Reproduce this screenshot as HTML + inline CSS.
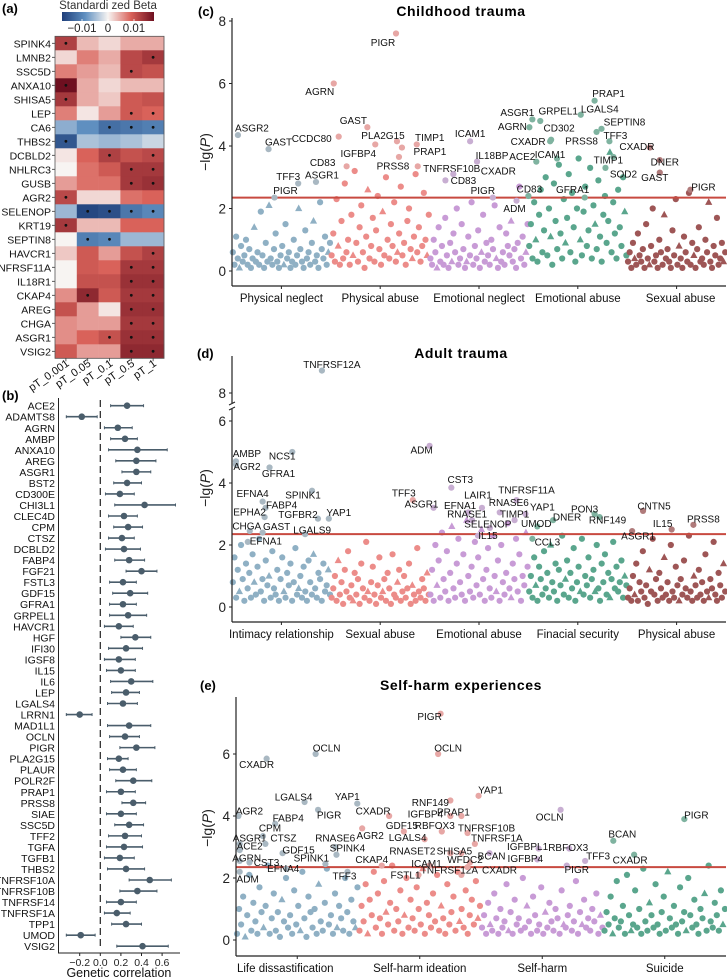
<!DOCTYPE html>
<html><head><meta charset="utf-8">
<style>
html,body{margin:0;padding:0;background:#fff;}
svg{display:block;font-family:"Liberation Sans",Arial,sans-serif;}
</style></head>
<body>
<svg id="fig" width="727" height="978" viewBox="0 0 727 978" xmlns="http://www.w3.org/2000/svg">
<defs>
<linearGradient id="cbar" x1="0" x2="1" y1="0" y2="0">
<stop offset="0" stop-color="#1f3f7a"/><stop offset="0.25" stop-color="#5f8fc0"/><stop offset="0.5" stop-color="#f7f4f2"/><stop offset="0.75" stop-color="#d9625a"/><stop offset="1" stop-color="#6e1020"/>
</linearGradient>
</defs>
<g id="panelA"></g>
<g id="panelB"></g>
<g id="panelC"></g>
<g id="panelD"></g>
<g id="panelE"></g>
</svg>
<script>
const NS="http://www.w3.org/2000/svg";
function mk(parent,tag,attrs,text){const e=document.createElementNS(NS,tag);for(const k in attrs)e.setAttribute(k,attrs[k]);if(text!==undefined)e.textContent=text;parent.appendChild(e);return e;}

/* ---------- Panel A: heatmap ---------- */
const hmGenes=["SPINK4","LMNB2","SSC5D","ANXA10","SHISA5","LEP","CA6","THBS2","DCBLD2","NHLRC3","GUSB","AGR2","SELENOP","KRT19","SEPTIN8","HAVCR1","TNFRSF11A","IL18R1","CKAP4","AREG","CHGA","ASGR1","VSIG2"];
const hmCols=["pT_0.001","pT_0.05","pT_0.1","pT_0.5","pT_1"];
const hmVals=[
[0.7,0.2,0.1,0.25,0.25],[0.1,0.4,0.25,0.65,0.75],[0.4,0.3,0.2,0.65,0.6],[1.0,0.25,0.1,0.2,0.2],
[0.75,0.25,0.15,0.55,0.6],[0.4,0.05,0.3,0.55,0.5],[-0.35,-0.5,-0.7,-0.65,-0.6],[-0.85,-0.25,-0.3,-0.25,-0.15],
[0.05,0.5,0.7,0.6,0.65],[0.0,0.45,0.55,0.75,0.75],[0.3,0.45,0.45,0.75,0.8],[0.65,0.1,0.1,0.45,0.5],
[-0.3,-0.95,-0.9,-0.65,-0.55],[0.75,0.2,0.2,0.5,0.5],[0.0,-0.6,-0.55,-0.3,-0.3],[0.15,0.55,0.3,0.6,0.7],
[0.0,0.55,0.5,0.75,0.75],[0.0,0.6,0.6,0.8,0.8],[0.35,0.85,0.55,0.75,0.75],[0.6,0.3,0.05,0.8,0.8],
[0.35,0.3,0.3,0.75,0.75],[0.35,0.5,0.6,0.8,0.8],[0.55,0.3,0.3,0.85,0.85]];
const hmSig=[
[1,0,0,0,0],[0,0,0,0,1],[0,0,0,1,0],[1,0,0,0,0],[1,0,0,0,0],[0,0,0,1,1],[0,0,1,1,1],[1,0,0,0,0],
[0,0,1,0,1],[0,0,0,1,1],[0,0,0,1,1],[1,0,0,0,0],[0,1,1,1,1],[1,0,0,0,0],[0,1,1,0,0],[0,0,0,0,1],
[0,0,0,1,1],[0,0,0,1,1],[0,1,0,1,1],[0,0,0,1,1],[0,0,0,1,1],[0,0,1,1,1],[0,0,0,1,1]];
const cbTicks=[-0.01,0,0.01];
const cbTickLabels=["\u22120.01","0","0.01"];
const cbMax=0.0177;

function lerp(a,b,t){return a+(b-a)*t;}
function mixC(c1,c2,t){return "rgb("+[0,1,2].map(i=>Math.round(lerp(c1[i],c2[i],t))).join(",")+")";}
function hmColor(v){
  const stops=[[-1,[31,63,122]],[-0.5,[95,143,192]],[0,[247,244,242]],[0.5,[217,98,90]],[1,[110,16,32]]];
  v=Math.max(-1,Math.min(1,v));
  for(let i=0;i<stops.length-1;i++){if(v<=stops[i+1][0]){const t=(v-stops[i][0])/(stops[i+1][0]-stops[i][0]);return mixC(stops[i][1],stops[i+1][1],t);}}
  return "rgb(110,16,32)";
}
(function(){
  const g=document.getElementById("panelA");
  const x0=55,x1=164,y0=36.3,rowH=14.0;
  const cw=(x1-x0)/hmCols.length;
  const pl=mk(g,"text",{x:2,y:13,"font-size":13,"font-weight":"bold"},"(a)");
  
  
  const ct=mk(g,"text",{x:108,y:9,"font-size":11.5,"text-anchor":"middle",fill:"#333"},"Standardi zed Beta");
  
  
  const cb=mk(g,"rect",{x:62,y:12,width:92,height:9,fill:"url(#cbar)"});
  
  
  cbTicks.forEach((t,i)=>{const x=108+t/cbMax*46;
    mk(g,"line",{x1:x,x2:x,y1:19,y2:21,stroke:"#fff","stroke-width":0.8});
    const tl=mk(g,"text",{x:x,y:32,"font-size":11.5,"text-anchor":"middle",fill:"#222"},cbTickLabels[i]);
    
    });
  hmGenes.forEach((gn,r)=>{
    const y=y0+r*rowH;
    hmVals[r].forEach((v,c)=>{
      const rc=mk(g,"rect",{x:x0+c*cw,y:y,width:cw+0.3,height:rowH+0.3,fill:hmColor(v)});
      
      
      if(hmSig[r][c]){const d=mk(g,"circle",{cx:x0+c*cw+cw/2,cy:y+rowH/2,r:1.4,fill:"#111"});
        
        }
    });
    const lb=mk(g,"text",{x:51,y:y+rowH/2+4,"font-size":10.5,"text-anchor":"end",fill:"#111"},gn);
    
    
    mk(g,"line",{x1:52,x2:55,y1:y+rowH/2,y2:y+rowH/2,stroke:"#333","stroke-width":0.8});
  });
  mk(g,"rect",{x:x0,y:y0,width:x1-x0,height:rowH*hmGenes.length,fill:"none",stroke:"#555","stroke-width":0.8});
  hmCols.forEach((c,i)=>{const x=x0+i*cw+cw/2;
    mk(g,"line",{x1:x,x2:x,y1:y0+rowH*hmGenes.length,y2:y0+rowH*hmGenes.length+3,stroke:"#333","stroke-width":0.8});
    const t=mk(g,"text",{x:x+4,y:365,"font-size":11,"text-anchor":"end",fill:"#111",transform:"rotate(-35 "+(x+4)+" 365)"},c);
    
    });
})();

/* ---------- Panel B: forest plot ---------- */
const fpGenes=["ACE2","ADAMTS8","AGRN","AMBP","ANXA10","AREG","ASGR1","BST2","CD300E","CHI3L1","CLEC4D","CPM","CTSZ","DCBLD2","FABP4","FGF21","FSTL3","GDF15","GFRA1","GRPEL1","HAVCR1","HGF","IFI30","IGSF8","IL15","IL6","LEP","LGALS4","LRRN1","MAD1L1","OCLN","PIGR","PLA2G15","PLAUR","POLR2F","PRAP1","PRSS8","SIAE","SSC5D","TFF2","TGFA","TGFB1","THBS2","TNFRSF10A","TNFRSF10B","TNFRSF14","TNFRSF1A","TPP1","UMOD","VSIG2"];
const fpEst=[0.26,-0.18,0.17,0.24,0.36,0.35,0.35,0.26,0.19,0.43,0.23,0.27,0.21,0.23,0.28,0.40,0.22,0.29,0.22,0.27,0.18,0.34,0.25,0.18,0.20,0.30,0.25,0.22,-0.20,0.28,0.24,0.35,0.18,0.22,0.32,0.20,0.32,0.20,0.28,0.24,0.23,0.19,0.25,0.48,0.36,0.20,0.16,0.25,-0.19,0.41];
const fpLo=[0.10,-0.33,0.04,0.10,0.08,0.15,0.21,0.13,0.05,0.14,0.08,0.13,0.08,0.05,0.14,0.25,0.09,0.12,0.09,0.09,0.04,0.20,0.08,0.04,0.06,0.10,0.11,0.07,-0.33,0.07,0.09,0.19,0.07,0.09,0.15,0.06,0.21,0.06,0.14,0.08,0.06,0.04,0.07,0.28,0.19,0.06,0.04,0.11,-0.33,0.16];
const fpHi=[0.42,-0.03,0.31,0.36,0.65,0.54,0.49,0.40,0.33,0.73,0.36,0.41,0.33,0.39,0.43,0.55,0.35,0.46,0.35,0.45,0.32,0.49,0.41,0.34,0.34,0.51,0.38,0.36,-0.08,0.49,0.38,0.53,0.27,0.35,0.50,0.34,0.44,0.35,0.42,0.40,0.41,0.33,0.43,0.69,0.55,0.35,0.29,0.40,-0.05,0.66];
const fpTicks=[-0.2,0.0,0.2,0.4,0.6];
const fpTickLabels=["\u22120.2","0.0","0.2","0.4","0.6"];
(function(){
  const g=document.getElementById("panelB");
  const xs=v=>100.3+v*103;
  const ys=i=>405.7+i*11.03;
  const pl=mk(g,"text",{x:2,y:400,"font-size":13,"font-weight":"bold"},"(b)");
  
  
  mk(g,"line",{x1:58.5,x2:58.5,y1:398,y2:953,stroke:"#222","stroke-width":1});
  mk(g,"line",{x1:58,x2:180,y1:953,y2:953,stroke:"#222","stroke-width":1});
  const zl=mk(g,"line",{x1:xs(0),x2:xs(0),y1:400,y2:950,stroke:"#222","stroke-width":1.2,"stroke-dasharray":"7,4"});
  
  
  fpTicks.forEach((t,i)=>{const x=xs(t);
    mk(g,"line",{x1:x,x2:x,y1:953,y2:956,stroke:"#222"});
    const tl=mk(g,"text",{x:x,y:966,"font-size":10.5,"text-anchor":"middle",fill:"#222"},fpTickLabels[i]);
    
    });
  const xt=mk(g,"text",{x:xs(0.2)-2,y:977,"font-size":12.5,"text-anchor":"middle",fill:"#111"},"Genetic correlation");
  
  
  fpGenes.forEach((gn,i)=>{const y=ys(i);
    const lb=mk(g,"text",{x:55,y:y+4,"font-size":10.5,"text-anchor":"end",fill:"#111"},gn);
    
    
    const ci=mk(g,"line",{x1:xs(fpLo[i]),x2:xs(fpHi[i]),y1:y,y2:y,stroke:"#4a5d6b","stroke-width":1.6});
    
    
    mk(g,"line",{x1:xs(fpLo[i]),x2:xs(fpLo[i]),y1:y-1.5,y2:y+1.5,stroke:"#4a5d6b","stroke-width":1});
    mk(g,"line",{x1:xs(fpHi[i]),x2:xs(fpHi[i]),y1:y-1.5,y2:y+1.5,stroke:"#4a5d6b","stroke-width":1});
    const pt=mk(g,"circle",{cx:xs(fpEst[i]),cy:y,r:3.3,fill:"#4a5d6b"});
    
    
  });
})();

/* ---------- Manhattan data ---------- */
const cCats=["Physical neglect","Physical abuse","Emotional neglect","Emotional abuse","Sexual abuse"];
const cG0=[0.6,0.2,1.1,0.4,0.1,0.8,0.3,0.5,1.0,0.2,0.7,0.1,0.4,1.4,0.3,0.6,0.2,1.9,0.5,0.1,0.9,0.3,2.1,0.4,0.2,0.7,1.2,0.3,0.1,0.5,0.8,0.2,1.5,0.4,0.6,0.1,0.3,1.0,0.2,0.5,2.0,0.7,0.3,0.1,1.3,0.4,0.6,0.2,0.9,1.6,0.3,0.5,0.1,2.2,0.7,0.4,1.1,0.2,0.6,0.9];
const cG1=[0.5,1.2,0.3,2.3,0.8,0.2,1.6,0.4,2.8,0.6,1.0,0.2,1.8,0.5,3.2,0.9,0.3,1.4,2.1,0.6,0.1,1.1,2.6,0.4,0.8,1.7,0.3,1.3,2.4,0.7,0.2,1.9,0.5,3.0,1.0,0.4,1.5,0.8,2.2,0.3,0.6,1.2,2.7,0.5,0.9,0.2,1.6,2.0,0.7,0.4,1.1,3.1,0.6,1.4,0.3,0.8,2.5,1.0,0.5,1.8];
const cG2=[0.4,0.2,1.0,0.6,0.1,1.4,0.3,0.8,0.2,1.7,0.5,0.1,0.9,0.3,1.2,0.6,2.0,0.2,0.4,1.5,0.7,0.1,0.3,1.1,0.5,2.2,0.2,0.8,0.4,1.3,0.1,0.6,1.8,0.3,0.9,0.5,0.2,1.0,0.7,2.1,0.4,0.1,1.4,0.3,0.6,0.2,1.2,0.8,0.5,1.6,0.3,0.7,0.1,0.9,2.7,0.4,1.1,0.2,0.6,1.5];
const cG3=[0.8,1.5,0.4,2.2,1.0,0.3,1.8,2.6,0.6,1.3,3.0,0.5,2.0,1.1,0.2,2.8,1.6,0.7,3.4,1.2,0.4,2.3,0.9,1.7,3.1,0.6,2.5,1.4,0.3,2.0,3.6,1.0,0.5,1.9,2.7,0.8,1.3,3.3,0.4,2.1,1.5,0.7,2.9,1.1,0.3,1.8,2.4,0.9,1.6,3.8,0.6,2.2,1.2,0.4,2.6,1.4,0.8,3.0,1.9,0.5];
const cG4=[0.3,0.6,0.1,0.9,0.4,0.2,1.2,0.5,0.3,0.7,0.1,1.5,0.4,0.2,0.8,2.0,0.3,0.5,0.1,1.0,0.6,0.2,1.8,0.4,0.7,0.3,0.1,1.3,0.5,2.3,0.2,0.8,0.4,0.1,1.1,0.6,0.3,2.5,0.2,0.9,0.5,0.1,0.7,1.4,0.3,0.4,0.2,1.0,0.6,2.2,0.3,0.1,0.8,0.5,1.7,0.2,0.4,0.9,0.3,0.6];
const cLabels=[["ASGR2",0.06,4.35],["GAST",0.37,3.9],["PIGR",0.43,2.35],["TFF3",0.67,2.8],["ASGR1",0.85,2.85],["CCDC80",1.08,4.3],["AGRN",1.03,6.0],["CD83",1.16,3.35],["GAST",1.37,4.6],["IGFBP4",1.45,4.05],["PIGR",1.66,7.6],["PLA2G15",1.67,4.15],["PRAP1",1.72,3.95],["PRSS8",1.69,3.65],["TIMP1",1.87,4.05],["TNFRSF10B",1.88,3.35],["ICAM1",2.41,4.15],["IL18BP",2.48,3.5],["CXADR",2.24,3.1],["CD83",2.16,2.9],["PIGR",2.64,2.35],["ADM",2.88,2.25],["ASGR1",3.04,4.85],["AGRN",3.01,4.6],["GRPEL1",3.12,4.8],["CD302",3.23,4.2],["CXADR",3.22,4.15],["LGALS4",3.53,5.0],["PRAP1",3.67,5.45],["SEPTIN8",3.74,4.55],["PRSS8",3.69,4.45],["TFF3",3.82,4.15],["TIMP1",3.86,3.65],["SOD2",3.78,3.3],["ACE2",3.08,3.5],["ICAM1",3.29,3.6],["CD83",3.0,2.4],["GFRA1",3.57,2.35],["CXADR",4.23,3.95],["DNER",4.33,3.55],["GAST",4.33,3.15],["PIGR",4.64,2.6]];
const cLabelOffsets=[[14,-7],[10,-7],[11,-7],[-10,-7],[6,-7],[-27,2],[-14,8],[-24,-4],[-14,-7],[-17,9],[-13,9],[-14,-6],[28,4],[-6,9],[13,-7],[34,2],[0,-8],[15,-6],[45,-3],[18,0],[-10,-7],[-2,8],[-15,-7],[-17,-1],[18,-10],[8,-12],[-22,0],[19,-6],[14,-7],[23,-7],[-15,9],[6,-6],[-5,3],[18,6],[-14,-5],[-7,-4],[1,-7],[-12,-8],[-13,-1],[5,2],[-5,5],[13,-3]];
const cTicks=[0,2,4,6,8];

const dCats=["Intimacy relationship","Sexual abuse","Emotional abuse","Finacial security","Physical abuse"];
const dG0=[0.8,1.6,0.3,1.2,0.5,2.0,0.9,0.2,1.4,0.6,1.1,0.3,1.7,0.8,0.4,1.3,2.2,0.5,0.9,0.2,1.5,0.7,1.0,0.3,1.8,0.6,0.4,1.2,0.2,0.9,1.6,0.5,0.3,1.1,0.7,1.4,0.2,0.8,1.9,0.4,0.6,1.0,0.3,1.3,0.5,0.2,1.5,0.8,0.4,1.7,0.6,0.3,1.1,0.9,0.2,1.4,0.5,0.7,1.2,0.4];
const dG1=[0.3,0.6,1.0,0.2,1.5,0.4,0.8,0.1,1.2,0.5,1.8,0.3,0.7,0.2,1.1,0.4,0.9,0.1,1.4,0.6,0.3,2.1,0.5,0.2,0.8,1.3,0.4,0.1,0.7,1.6,0.3,0.5,0.9,0.2,1.1,0.6,0.1,1.7,0.4,0.3,0.8,1.2,0.2,0.5,1.0,0.3,0.6,1.4,0.1,0.7,0.4,0.2,1.9,0.5,0.3,0.9,0.6,0.2,1.1,0.4];
const dG2=[0.4,1.2,0.2,2.0,0.7,1.5,0.3,2.4,0.9,0.5,1.8,0.2,1.1,2.6,0.6,0.3,1.4,2.2,0.8,0.4,1.7,0.2,2.8,1.0,0.5,1.3,0.3,2.1,0.7,1.6,0.4,2.5,0.9,0.2,1.2,1.9,0.6,0.3,2.3,1.0,0.5,1.5,0.2,2.0,0.8,0.4,1.1,2.7,0.6,0.3,1.4,0.9,2.2,0.5,1.7,0.2,1.0,0.7,2.4,1.3];
const dG3=[0.5,1.0,0.3,1.6,0.7,0.2,1.3,0.9,0.4,1.8,0.6,1.1,0.3,2.0,0.8,0.5,1.4,0.2,1.2,0.7,2.3,0.4,0.9,1.5,0.3,1.1,0.6,1.9,0.2,0.8,1.3,0.5,2.2,0.4,1.0,0.7,1.6,0.3,0.9,1.2,0.5,2.0,0.6,0.2,1.4,0.8,1.7,0.4,1.1,0.3,0.9,2.1,0.6,1.3,0.5,0.8,1.5,0.3,1.0,0.7];
const dG4=[0.3,0.6,0.2,1.0,0.4,1.4,0.2,0.8,0.5,1.8,0.3,0.7,0.1,1.2,0.5,2.2,0.4,0.9,0.2,1.1,0.6,0.3,1.6,0.4,0.8,0.2,2.0,0.5,0.3,1.3,0.7,0.2,0.9,0.4,1.5,0.6,0.3,2.3,0.5,0.2,1.0,0.7,0.3,1.2,0.4,0.8,0.2,1.7,0.5,0.3,0.9,0.6,2.1,0.4,0.2,1.1,0.7,0.3,1.4,0.5];
const dLabels=[["TNFRSF12A",0.91,9.6],["AMBP",0.04,4.7],["AGR2",0.04,4.6],["NCS1",0.61,5.0],["GFRA1",0.38,4.5],["EFNA4",0.31,3.4],["FABP4",0.34,3.2],["SPINK1",0.81,3.75],["EPHA2",0.33,2.9],["TGFBR2",0.87,2.85],["YAP1",0.98,2.85],["CHGA",0.18,2.45],["GAST",0.31,2.4],["LGALS9",0.74,2.35],["EFNA1",0.16,2.1],["TFF3",1.83,3.45],["ASGR1",2.04,3.2],["ADM",2.0,5.2],["CST3",2.22,3.85],["LAIR1",2.53,3.2],["EFNA1",2.39,3.05],["TNFRSF11A",2.88,3.45],["RNASE6",2.71,3.05],["YAP1",2.97,3.0],["TIMP1",2.86,2.8],["RNASE1",2.43,2.8],["SELENOP",2.61,2.55],["IL15",2.49,2.3],["UMOD",3.09,2.6],["DNER",3.25,2.8],["CCL3",3.04,2.2],["PON3",3.67,3.0],["RNF149",3.72,2.9],["CNTN5",4.16,3.1],["IL15",4.45,2.5],["PRSS8",4.67,2.65],["ASGR1",4.05,2.45]];
const dLabelOffsets=[[10,-6],[11,-8],[11,2],[-10,4],[9,6],[-10,-8],[16,-3],[-9,4],[-15,-5],[-20,-4],[10,-6],[-3,-5],[14,-6],[7,-4],[18,-1],[-9,-7],[-12,-4],[-8,4],[9,-8],[-4,-13],[-8,-7],[10,-10],[9,-10],[17,-7],[0,-6],[-5,-6],[-2,-4],[10,0],[-1,-3],[14,-3],[15,3],[-10,-5],[8,3],[11,-5],[-9,-6],[10,-6],[6,5]];
const dTicks=[0,2,4,6,8];

const eCats=["Life dissastification","Self-harm ideation","Self-harm","Suicide"];
const eG0=[0.2,1.0,0.5,1.4,0.1,0.8,2.1,0.3,1.2,0.6,0.2,1.7,0.9,0.4,1.1,2.4,0.2,0.7,1.5,0.3,0.9,0.1,1.3,0.6,2.0,0.4,0.8,0.2,1.6,0.5,1.1,0.3,2.2,0.7,0.1,1.4,0.9,0.4,1.0,0.2,1.8,0.6,0.3,1.2,2.3,0.5,0.8,0.2,1.5,0.4,1.1,0.7,0.3,2.0,0.9,0.2,1.3,0.6,0.4,1.7];
const eG1=[0.3,1.1,0.6,1.8,0.2,1.3,0.8,2.2,0.4,1.5,0.7,0.2,1.9,0.9,0.5,1.2,2.4,0.3,1.0,0.6,1.6,0.2,0.8,2.0,0.4,1.3,0.7,0.3,1.7,1.0,0.5,2.3,0.2,1.2,0.8,0.4,1.5,0.6,2.1,0.3,1.1,0.7,0.2,1.8,0.5,0.9,1.4,0.3,2.2,0.6,1.0,0.4,1.6,0.2,0.8,1.3,0.5,1.9,0.7,1.1];
const eG2=[0.4,0.8,0.2,1.2,0.5,0.3,1.5,0.7,0.2,1.0,0.4,0.6,1.8,0.3,0.9,0.2,1.3,0.5,0.7,0.3,2.0,0.4,1.1,0.6,0.2,1.4,0.8,0.3,0.5,1.7,0.2,0.9,0.4,1.2,0.6,0.3,1.0,0.7,0.2,1.6,0.5,0.4,0.8,1.1,0.3,0.6,1.9,0.2,0.9,0.5,1.3,0.4,0.7,0.3,1.0,0.6,1.5,0.2,0.8,0.4];
const eG3=[0.3,0.9,0.5,1.4,0.2,0.7,1.9,0.4,0.6,1.1,0.2,2.1,0.8,0.3,0.5,1.6,0.4,1.0,0.2,2.3,0.6,0.3,1.2,0.8,0.4,1.8,0.5,0.2,0.9,1.4,0.3,2.2,0.7,0.4,1.1,0.5,0.2,1.7,0.6,0.9,0.3,2.0,0.8,0.4,1.3,0.5,0.2,1.0,0.7,1.5,0.3,2.4,0.6,0.4,1.2,0.8,0.3,1.6,0.5,1.0];
const eLabels=[["CXADR",0.25,5.85],["OCLN",0.65,6.0],["LGALS4",0.56,4.45],["YAP1",0.99,4.4],["PIGR",0.67,4.2],["AGR2",0.02,4.0],["FABP4",0.32,3.75],["CPM",0.22,3.35],["ASGR1",0.03,3.1],["CTSZ",0.24,3.1],["ACE2",0.03,2.9],["GDF15",0.38,2.8],["AGRN",0.03,2.55],["CST3",0.11,2.5],["EFNA4",0.41,2.3],["ADM",0.03,2.2],["RNASE6",0.81,3.0],["SPINK4",0.82,2.75],["SPINK1",0.73,2.45],["TFF3",0.91,2.2],["CKAP4",1.19,2.4],["AGR2",1.03,3.6],["CXADR",1.25,4.0],["PIGR",1.67,7.3],["OCLN",1.65,6.0],["RNF149",1.75,4.5],["IGFBP4",1.75,4.0],["GDF15",1.37,3.5],["RBFOX3",1.68,3.5],["LGALS4",1.54,3.25],["RNASET2",1.75,2.8],["ICAM1",1.58,2.4],["FSTL1",1.49,2.1],["TNFRSF12A",1.84,2.1],["PRAP1",1.84,4.0],["YAP1",1.98,4.65],["TNFRSF10B",1.89,3.45],["TNFRSF1A",1.95,3.1],["SHISA5",1.84,2.8],["BCAN",2.07,2.8],["WFDC2",1.91,2.5],["CXADR",1.89,2.35],["IGFBPL1",2.47,2.95],["IGFBP4",2.46,2.6],["RBFOX3",2.72,2.95],["OCLN",2.65,4.2],["PIGR",2.70,2.4],["TFF3",2.85,2.55],["BCAN",3.08,3.2],["CXADR",3.25,2.75],["PIGR",3.66,3.9]];
const eLabelOffsets=[[-10,6],[11,-6],[-11,-5],[-10,-7],[11,5],[11,-5],[13,-6],[7,-8],[10,-6],[18,-6],[10,-4],[16,-3],[7,-3],[17,0],[-3,0],[8,7],[0,-9],[11,-7],[-14,-6],[-3,4],[-10,-6],[8,7],[-16,-5],[-11,3],[10,-6],[-20,2],[-25,-2],[-2,-6],[-7,-6],[-17,-2],[-38,-2],[-3,-2],[-13,0],[-12,-5],[-8,-4],[12,-6],[19,-5],[22,-6],[-7,-2],[2,3],[-5,-3],[32,3],[-11,-2],[-12,-1],[-1,-1],[-11,7],[10,4],[13,-5],[9,-7],[-4,5],[12,-4]];
const eTicks=[0,2,4,6];

const threshold=2.35;

function drawManhattan(g,cfg){
  const nG=cfg.groups.length;
  const gw=(cfg.xR-cfg.xL)/nG;
  const xs=p=>cfg.xL+p*gw;
  const ys=cfg.ys;
  const pl=mk(g,"text",{x:cfg.plX,y:cfg.titleY,"font-size":13,"font-weight":"bold"},cfg.tag);
  
  
  const tt=mk(g,"text",{x:461,y:cfg.titleY,"font-size":14,"font-weight":"bold","text-anchor":"middle","letter-spacing":"0.6"},cfg.title);
  
  
  cfg.groups.forEach((arr,gi)=>{
    arr.forEach((v,i)=>{
      const p=gi+(i+0.5)/arr.length;
      const x=xs(p), y=ys(v);
      let el;
      if(i%9===4){el=mk(g,"polygon",{points:(x)+","+(y-4)+" "+(x-3.6)+","+(y+2.6)+" "+(x+3.6)+","+(y+2.6),fill:cfg.colors[gi]});}
      else{el=mk(g,"circle",{cx:x,cy:y,r:3.1,fill:cfg.colors[gi]});}
      
      
    });
  });
  const th=mk(g,"line",{x1:cfg.xL,x2:cfg.xR,y1:ys(threshold),y2:ys(threshold),stroke:"#c84a40","stroke-width":2});
  
  
  cfg.labels.forEach((L,i)=>{
    const x=xs(L[1]), y=ys(L[2]);
    const gi=Math.min(nG-1,Math.floor(L[1]));
    const c=mk(g,"circle",{cx:x,cy:y,r:3.1,fill:cfg.labColors[gi]});
    
    
    const o=cfg.offsets[i];
    const t=mk(g,"text",{x:x+o[0],y:y+o[1]+3.5,"font-size":10,"text-anchor":"middle",fill:"#111"},L[0]);
    
    
  });
  mk(g,"line",{x1:cfg.xL,x2:cfg.xL,y1:cfg.axTop,y2:cfg.axBot,stroke:"#222","stroke-width":1.2});
  mk(g,"line",{x1:cfg.xL,x2:cfg.xR,y1:cfg.axBot,y2:cfg.axBot,stroke:"#222","stroke-width":1.2});
  cfg.ticks.forEach(t=>{const y=ys(t);
    mk(g,"line",{x1:cfg.xL-3,x2:cfg.xL,y1:y,y2:y,stroke:"#222"});
    const tl=mk(g,"text",{x:cfg.xL-6,y:y+5,"font-size":13.5,"text-anchor":"end",fill:"#222"},String(t));
    
    });
  const yt=mk(g,"text",{x:cfg.ytX,y:cfg.ytY,"font-size":14,"text-anchor":"middle",fill:"#222",transform:"rotate(-90 "+cfg.ytX+" "+cfg.ytY+")"},"\u2212lg(");
  
  
  mk(yt,"tspan",{"font-style":"italic"},"P");
  mk(yt,"tspan",{},")");
  cfg.cats.forEach((c,i)=>{const x=xs(i+0.5)+(cfg.catShift?cfg.catShift[i]:0);
    mk(g,"line",{x1:xs(i+0.5),x2:xs(i+0.5),y1:cfg.axBot,y2:cfg.axBot+3,stroke:"#222"});
    const tl=mk(g,"text",{x:x,y:cfg.axBot+16,"font-size":11.5,"text-anchor":"middle",fill:"#111"},c);
    
    });
}

const colC=["#8fb0c4","#ec8c89","#c89bd6","#5aa68d","#9e5656"];
const labC=["#a9b8c2","#e7a7a5","#c8aed2","#7fb3a0","#b07b7b"];

drawManhattan(document.getElementById("panelC"),{
  tag:"(c)",plX:198,title:"Childhood trauma",titleY:16,groups:[cG0,cG1,cG2,cG3,cG4],cats:cCats,
  xL:232,xR:726,ys:v=>271-31.25*v,axTop:18,axBot:286,ticks:cTicks,ytX:210,ytY:152,
  colors:colC,labColors:labC,labels:cLabels,offsets:cLabelOffsets,catShift:[0,0,0,0,4]});

drawManhattan(document.getElementById("panelD"),{
  tag:"(d)",plX:197,title:"Adult trauma",titleY:358,groups:[dG0,dG1,dG2,dG3,dG4],cats:dCats,
  xL:232,xR:726,ys:v=>v<=6.2?607-31*v:393-(v-8)*14,axTop:356,axBot:622,ticks:dTicks,ytX:210,ytY:488,
  colors:colC,labColors:labC,labels:dLabels,offsets:dLabelOffsets,catShift:[0,0,0,0,0]});
(function(){const g=document.getElementById("panelD");
  const br=mk(g,"rect",{x:228,y:403,width:8,height:6,fill:"#fff"});
  
  
  mk(g,"line",{x1:229,x2:235,y1:405,y2:402,stroke:"#222"});
  mk(g,"line",{x1:229,x2:235,y1:410,y2:407,stroke:"#222"});})();

drawManhattan(document.getElementById("panelE"),{
  tag:"(e)",plX:200,title:"Self-harm experiences",titleY:690,groups:[eG0,eG1,eG2,eG3],cats:eCats,
  xL:236,xR:726,ys:v=>940-31*v,axTop:697,axBot:956,ticks:eTicks,ytX:212,ytY:828,
  colors:["#8fb0c4","#ec8c89","#c89bd6","#5aa68d"],labColors:["#a9b8c2","#e7a7a5","#c8aed2","#7fb3a0"],
  labels:eLabels,offsets:eLabelOffsets,catShift:[-12,0,0,0]});
</script>
</body></html>
